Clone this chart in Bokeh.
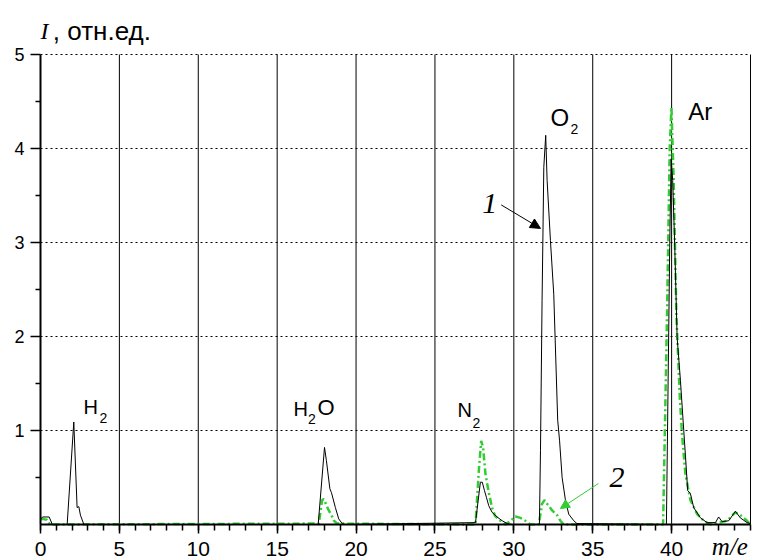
from bokeh.plotting import figure
from bokeh.models import Range1d, FixedTicker, Label, Arrow, NormalHead
from bokeh.embed import file_html
from bokeh.resources import INLINE

# ---- data ----
# curve 1 (black, solid)
mass1 = [0.0, 0.15, 0.55, 0.75, 1.69, 2.11, 2.32, 2.43, 2.53, 2.75,
         17.6, 18.0, 18.12, 18.34, 18.44, 18.69, 18.9, 19.12, 19.3,
         27.57, 27.88, 28.0, 28.14, 28.26, 28.41, 28.62, 28.94, 29.26, 29.58, 29.9,
         31.62, 31.69, 31.79, 31.9, 32.02, 32.11, 32.32, 32.53, 32.78, 32.9,
         33.06, 33.27, 33.48, 33.8, 34.0,
         39.67, 39.88, 39.97, 40.07, 40.2, 40.35, 40.56, 40.77, 40.87, 41.02,
         41.19, 41.4, 41.83, 42.25, 42.78, 42.98, 43.2, 43.62, 44.04, 44.36,
         44.78, 45.0]
inten1 = [0.06, 0.08, 0.08, 0.0, 0.0, 1.09, 0.18, 0.19, 0.1, 0.0,
          0.0, 0.82, 0.68, 0.38, 0.34, 0.18, 0.06, 0.01, 0.0,
          0.02, 0.45, 0.45, 0.36, 0.29, 0.2, 0.13, 0.08, 0.04, 0.01, 0.0,
          0.0, 0.79, 2.38, 3.8, 4.14, 3.66, 3.02, 2.45, 1.11, 0.89,
          0.5, 0.26, 0.11, 0.04, 0.01,
          0.0, 2.95, 3.89, 3.66, 2.95, 1.99, 1.53, 1.0, 0.75, 0.36,
          0.33, 0.18, 0.07, 0.02, 0.02, 0.08, 0.03, 0.04, 0.14, 0.07,
          0.02, 0.01]

# curve 2 (green, dash-dot)
mass2 = [0.0, 0.1, 0.4, 0.6, 17.64, 17.85, 17.95, 18.06, 18.27, 18.44, 18.6, 18.8,
         27.57, 27.78, 27.93, 28.05, 28.2, 28.41, 28.62, 28.81, 29.15, 29.47,
         29.79, 30.1, 30.42, 30.73, 31.05,
         31.58, 31.79, 31.94, 32.11, 32.43, 32.74, 32.95, 33.16,
         39.46, 39.71, 39.88, 39.99, 40.13, 40.3, 40.52, 40.66, 40.87, 41.19,
         41.62, 42.03, 42.46, 43.52, 44.04, 44.36, 44.78, 45.0]
inten2 = [0.05, 0.06, 0.05, 0.0, 0.01, 0.26, 0.27, 0.23, 0.15, 0.1, 0.04, 0.01,
          0.0, 0.57, 0.89, 0.82, 0.54, 0.34, 0.18, 0.09, 0.04, 0.0,
          0.04, 0.085, 0.07, 0.04, 0.0,
          0.0, 0.22, 0.26, 0.22, 0.15, 0.1, 0.04, 0.0,
          0.0, 2.24, 4.01, 4.44, 3.66, 2.24, 1.35, 0.96, 0.54, 0.26,
          0.11, 0.04, 0.0, 0.04, 0.13, 0.1, 0.04, 0.0]

x_major = [0, 5, 10, 15, 20, 25, 30, 35, 40]
x_minor = [i for i in range(0, 46)]
y_major = [1, 2, 3, 4, 5]
y_minor = [0.5, 1.5, 2.5, 3.5, 4.5]
x_grid = [5, 10, 15, 20, 25, 30, 35, 40, 45]
x_lim = (0, 45)
y_lim = (0, 5)

# peak labels: (main text, subscript)
peak_names = [("H", "2"), ("H", "2"), ("N", "2"), ("O", "2"), ("Ar", "")]

# ---- figure: frame fills the canvas, axes are placed at x=0 / y=0 ----
W, H = 760, 560
PX_L, PX_R, PX_T, PX_B = 40, 750, 54, 524  # where the data box sits on the canvas
sx = (PX_R - PX_L) / (x_lim[1] - x_lim[0])
sy = (PX_B - PX_T) / (y_lim[1] - y_lim[0])
xr = Range1d(x_lim[0] - PX_L / sx, x_lim[1] + (W - PX_R) / sx)
yr = Range1d(y_lim[0] - (H - PX_B) / sy, y_lim[1] + PX_T / sy)

p = figure(width=W, height=H, output_backend="svg", toolbar_location=None,
           x_range=xr, y_range=yr,
           min_border_left=0, min_border_right=0,
           min_border_top=0, min_border_bottom=0)
p.outline_line_color = None
p.background_fill_color = "white"
p.border_fill_color = "white"
p.xgrid.visible = False
p.ygrid.visible = False

# axes
p.xaxis.fixed_location = 0
p.yaxis.fixed_location = 0
p.xaxis.bounds = x_lim
p.yaxis.bounds = y_lim
p.xaxis.ticker = FixedTicker(ticks=x_major, minor_ticks=x_minor)
p.yaxis.ticker = FixedTicker(ticks=y_major, minor_ticks=y_minor)
for ax in (p.xaxis, p.yaxis):
    ax.axis_line_width = 2
    ax.axis_line_color = "black"
    ax.major_tick_line_color = "black"
    ax.minor_tick_line_color = "black"
    ax.major_tick_line_width = 1.5
    ax.minor_tick_line_width = 1.5
    ax.major_tick_in = 0
    ax.minor_tick_in = 0
    ax.major_label_text_font = "Liberation Sans"
    ax.major_label_text_color = "black"
p.xaxis.major_tick_out = 9
p.xaxis.minor_tick_out = 6
p.xaxis.major_label_text_font_size = "21px"
p.xaxis.major_label_standoff = 8
p.yaxis.major_tick_out = 10
p.yaxis.minor_tick_out = 5
p.yaxis.major_label_text_font_size = "18px"
p.yaxis.major_label_standoff = 6

# grid lines (solid verticals, dotted horizontals) limited to the data box
p.segment(x0=x_grid, y0=[y_lim[0]] * len(x_grid), x1=x_grid, y1=[y_lim[1]] * len(x_grid),
          line_color="black", line_width=1)
p.segment(x0=[x_lim[0]] * len(y_major), y0=y_major, x1=[x_lim[1]] * len(y_major), y1=y_major,
          line_color="black", line_width=1, line_dash="2 3")

# curves
p.line(mass2, inten2, line_color="#33cc33", line_width=2.5, line_dash="7 3 2 3")
p.line(mass1, inten1, line_color="black", line_width=1)

# ---- annotations ----
sans = "Liberation Sans"
serif = "Liberation Serif"

def lab(x, y, text, font, size, style="normal", color="black", baseline="alphabetic"):
    p.add_layout(Label(x=x, y=y, text=text, text_font=font, text_font_size=size,
                       text_font_style=style, text_color=color,
                       text_baseline=baseline, text_align="left"))

# axis titles
lab(0.0, 5.25, "I", serif, "24px", "italic")
lab(0.78, 5.255, ", отн.ед.", sans, "26px")
lab(42.55, -0.09, "m/e", serif, "25px", "italic", baseline="top")

# peak labels
main_pos = [(2.72, 1.254, "20px"), (16.03, 1.234, "20px"), (26.43, 1.214, "20px"),
            (32.32, 4.334, "24px"), (41.06, 4.389, "24px")]
sub_pos = [(3.74, 1.137), (16.95, 1.122), (27.38, 1.082), (33.59, 4.212), None]
for (name, sub), (mx, my, fs), sp in zip(peak_names, main_pos, sub_pos):
    lab(mx, my, name, sans, fs)
    if sub and sp:
        lab(sp[0], sp[1], sub, sans, "14px")
lab(17.55, 1.242, "O", sans, "22px")

# curve numbers with arrows
lab(28.0, 3.42, "1", serif, "30px", "italic")
lab(36.06, 0.495, "2", serif, "30px", "italic")
p.add_layout(Arrow(end=NormalHead(size=10, fill_color="black", line_color="black"),
                   x_start=29.2, y_start=3.40, x_end=31.69, y_end=3.15,
                   line_color="black", line_width=1))
p.add_layout(Arrow(end=NormalHead(size=9, fill_color="#33cc33", line_color="#33cc33"),
                   x_start=35.36, y_start=0.436, x_end=32.95, y_end=0.17,
                   line_color="#33cc33", line_width=1))

open("out.html", "w").write(file_html(p, INLINE))
